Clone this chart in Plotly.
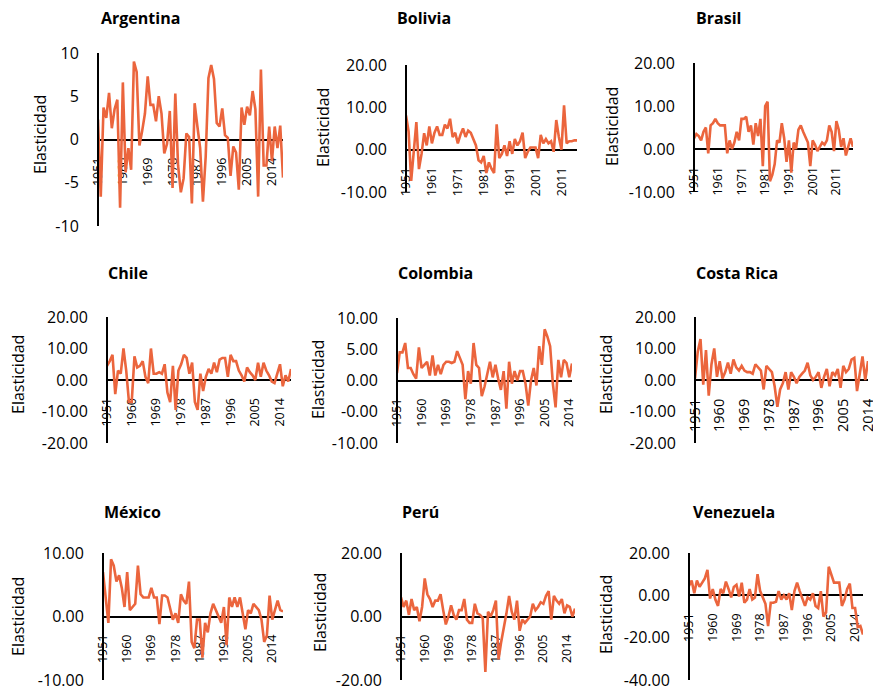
import plotly.graph_objects as go

# The page body has an 8px default margin, so the figure is sized to fit the
# remaining viewport and reference pixel positions are shifted accordingly.
OFF = 8
W, H = 881 - OFF, 692 - OFF
LINE_COLOR = "#EB653D"
FONT = "Open Sans"

# ---------------- data (elasticidad por año, desde 1951) ----------------
argentina = [2.3, -6.6, 3.7, 2.5, 5.4, 1.3, 3.5, 4.6, -7.9, 6.6, -3.8, -1.0, -3.5, 9.0, 7.8, -0.7,
             1.0, 3.0, 7.3, 4.0, 4.0, 2.1, 5.0, 3.0, -1.6, -0.5, 3.3, -5.6, 5.3, -3.0, -6.1, -4.5,
             0.7, 0.3, -7.4, 4.2, 1.5, -1.0, -7.2, -2.0, 7.1, 8.6, 7.0, 1.9, 1.5, 3.6, 0.5, 0.2,
             -4.2, -0.8, -1.5, -5.8, 3.7, 1.7, 3.8, 2.8, 5.6, 3.5, -6.6, 8.1, -3.0, -3.0, 1.5,
             -2.5, 1.5, -1.0, 1.6, -4.4]
bolivia = [8.1, 4.3, -7.4, 0.0, 6.5, -4.6, -1.0, 3.9, 1.0, 5.5, 1.5, 4.0, 5.5, 3.5, 3.5, 5.9,
           5.0, 7.3, 3.0, 4.0, 1.5, 3.5, 5.0, 3.0, 4.5, 4.0, 2.5, 1.0, -2.5, -3.0, -1.5, -5.5,
           -3.0, -4.5, -5.5, 6.0, -2.0, -1.0, 1.0, -1.5, 2.0, -1.0, 2.5, 1.0, 2.0, 4.0, -2.0,
           -0.5, 0.5, 0.5, 0.5, -2.0, 3.5, 1.5, 2.5, 1.5, 2.0, -0.5, 7.0, 3.0, 0.0, 10.5, 1.5,
           2.0, 2.0, 2.2, 2.2]
brasil = [2.5, 3.5, 3.0, 2.0, 4.0, 5.0, -1.0, 5.5, 6.0, 7.0, 6.0, 5.5, 5.5, 5.5, -1.0, 2.0,
          0.0, 1.5, 4.0, 2.0, 7.0, 7.0, 7.5, 4.0, 5.5, 1.0, 6.0, 3.0, 7.0, -4.0, 10.0, 11.0,
          -7.5, -6.0, -3.5, 2.0, 1.5, 6.0, 2.5, -3.0, 2.0, -5.5, 1.5, 0.0, 4.5, 5.5, 4.0, 2.5,
          1.5, -4.0, 2.0, 1.0, -0.5, 0.5, 1.5, 1.0, 2.0, 5.5, 4.0, -0.5, 6.5, 4.5, 0.5, 2.5,
          -1.5, 0.5, 2.5, 0.5]
chile = [4.5, 6.0, 8.0, -4.5, 3.0, 2.0, 10.0, 3.0, -7.0, -7.0, 7.5, 4.0, 4.5, 6.0, 1.0, -1.0,
         10.0, 2.0, 2.0, 2.5, 2.0, 5.0, -4.0, -7.0, 4.5, -9.5, 3.0, 5.0, 8.0, 7.0, 2.0, 5.5,
         -7.0, -9.5, 2.0, -3.5, 1.0, 3.5, 2.0, 5.5, 2.5, 6.5, 7.0, 7.0, 1.0, 8.0, 6.0, 6.0,
         3.0, 1.5, -0.5, 4.0, 2.5, 1.5, 0.0, 5.5, 1.0, 5.5, 3.0, 1.5, -0.5, -1.0, 2.0, 5.0,
         -2.0, 1.5, -0.5, 3.5]
colombia = [1.2, 4.5, 4.5, 6.0, 2.0, 2.0, 1.0, 0.3, 5.3, 2.0, 2.5, 3.0, 0.8, 4.0, 0.8, 2.5,
            1.0, 2.5, 3.0, 3.0, 2.8, 3.0, 4.7, 3.5, 2.5, -3.0, 1.5, -0.5, 6.0, 2.5, 2.0, -2.5,
            -1.0, 1.0, 3.0, 0.5, 2.5, 0.3, -1.5, 1.5, -4.5, 3.0, -0.5, 1.5, 0.0, 1.5, 1.5, -0.5,
            -4.0, 0.0, 2.0, -0.8, 5.5, 2.5, 8.2, 7.0, 5.5, -0.5, -4.3, 3.3, 0.5, 3.3, 2.8, 0.5,
            2.7]
costa_rica = [0.5, 9.0, 13.0, -1.5, 9.5, -5.0, 5.0, 10.0, 1.0, 6.0, 0.5, 2.5, 5.5, 2.0, 6.5, 4.0,
              3.0, 4.5, 3.0, 2.5, 2.5, 2.0, 5.0, 4.0, 3.0, -3.0, 4.5, 3.5, 2.5, -2.0, -8.5, -3.0,
              -1.0, 2.5, -3.0, 2.5, 1.0, -1.0, 1.0, 2.0, 3.0, 5.5, 1.5, 0.0, 1.0, 2.5, -2.5, 1.0,
              3.5, -2.0, 2.5, 1.5, 3.5, -2.5, 4.5, 2.5, 3.5, 6.5, 7.0, -3.5, 1.5, 7.5, 0.0, 6.0]
mexico = [7.0, 3.0, -1.0, 9.0, 8.0, 5.5, 6.5, 4.5, 1.5, 7.0, 1.0, 1.5, 2.0, 8.0, 3.5, 3.0,
          3.0, 3.0, 4.5, 3.0, 3.0, -1.2, 3.3, 3.3, 3.0, 1.0, -0.5, 0.5, -1.0, 3.5, 2.5, 2.0,
          5.5, -4.0, -5.0, -0.5, -0.5, -6.5, -1.0, -2.5, 0.5, 2.0, 1.0, 0.0, -1.0, 1.5, -4.5, 3.0,
          1.5, 3.0, 1.5, 3.0, 0.5, -2.0, 1.0, 0.5, 2.0, 1.5, 1.0, -0.5, -4.0, -3.0, 3.3, -0.5,
          1.0, 2.5, 1.0, 0.8]
peru = [6.0, 3.0, 5.0, 0.5, 5.5, 2.0, 3.0, -1.5, 3.0, 12.0, 7.0, 5.5, 3.0, 5.0, 5.0, 7.0,
        2.0, -2.5, 0.0, 3.5, 0.5, -1.0, 2.0, 2.0, 5.5, -1.0, -2.0, -2.0, 4.0, 1.0, 0.5, -0.5,
        -17.5, 1.5, 0.0, 2.0, 5.0, -13.5, -8.0, -4.0, 1.0, 6.5, 1.5, -1.0, 5.0, -4.5, -1.0, -2.0,
        -1.0, 0.0, 4.0, 2.0, 3.0, 4.5, 4.0, 6.5, 8.0, -1.0, 6.5, 5.0, 4.0, 5.5, 1.0, 3.5,
        3.0, 0.0, 2.5]
venezuela = [4.5, 7.0, 1.0, 7.0, 4.0, 6.0, 8.0, 12.0, -1.5, 3.0, -2.0, -5.0, 3.0, 1.0, 6.5, 3.0,
             -1.0, 4.0, 5.0, -0.5, 6.0, -3.5, -2.0, 3.0, -2.0, -1.0, 10.0, 2.0, -1.0, -4.0, -14.5,
             -3.5, -3.5, -3.0, 2.0, -2.0, 0.0, -2.0, 1.0, -7.0, 2.0, 6.0, 2.0, -2.0, -5.0, -1.0,
             -2.0, 1.0, -5.0, -6.0, 2.0, -10.0, -8.0, 13.5, 10.0, 6.0, 6.0, 6.0, -5.0, -2.0, 3.0,
             5.5, -6.0, -6.0, -15.0, -14.5, -18.5]

FIRST_YEAR = 1951
ticks_9 = [1951, 1960, 1969, 1978, 1987, 1996, 2005, 2014]
ticks_10 = [1951, 1961, 1971, 1981, 1991, 2001, 2011]

y_ticks_arg = [10, 5, 0, -5, -10]
y_text_arg = ["10", "5", "0", "-5", "-10"]
y_ticks_20 = [20, 10, 0, -10]
y_ticks_20s = [20, 10, 0, -10, -20]
y_ticks_col = [10, 5, 0, -5, -10]
y_text_col = ["10.00", "5.00", "0.00", "-0.00", "-10.00"]
y_ticks_ven = [20, 0, -20, -40]

def fmt(v):
    return [f"{t:.2f}" for t in v]

def px(x):
    return (x - OFF) / W

def py(y):
    return 1 - (y - OFF) / H

# name, values, y range, y ticks, y tick text, x ticks, plot box (l, r, top, bottom px),
# title left px / y px, y-label center (x, y) px, xtick font size
panels = [
    ("Argentina", argentina, (-10, 10), y_ticks_arg, y_text_arg, ticks_9, (98, 283, 53, 226), (99, 18), (40, 135), 12.5),
    ("Bolivia", bolivia, (-10, 20), y_ticks_20, fmt(y_ticks_20), ticks_10, (406, 577, 65, 192), (395, 18), (323, 128), 12.5),
    ("Brasil", brasil, (-10, 20), y_ticks_20, fmt(y_ticks_20), ticks_10, (694, 853, 63, 192), (694, 18), (612, 127), 12.5),
    ("Chile", chile, (-20, 20), y_ticks_20s, fmt(y_ticks_20s), ticks_9, (107, 291, 317, 443), (106, 273), (18, 375), 12.5),
    ("Colombia", colombia, (-10, 10), y_ticks_col, y_text_col, ticks_9, (397, 572, 318, 443), (396, 273), (318, 380), 12.5),
    ("Costa Rica", costa_rica, (-20, 20), y_ticks_20s, fmt(y_ticks_20s), ticks_9, (695, 868, 317, 443), (694, 273), (606, 375), 14.5),
    ("México", mexico, (-10, 10), [10, 0, -10], fmt([10, 0, -10]), ticks_9, (103, 283, 553, 680), (102, 512), (18, 617), 12.5),
    ("Perú", peru, (-20, 20), [20, 0, -20], fmt([20, 0, -20]), ticks_9, (401, 575, 553, 680), (400, 512), (320, 613), 12.5),
    ("Venezuela", venezuela, (-40, 20), y_ticks_ven, fmt(y_ticks_ven), ticks_9, (689, 863, 553, 680), (691, 512), (606, 615), 12.5),
]

fig = go.Figure()
layout = dict(
    width=W, height=H, autosize=False,
    margin=dict(l=0, r=0, t=0, b=0, pad=0, autoexpand=False),
    paper_bgcolor="white", plot_bgcolor="rgba(0,0,0,0)",
    showlegend=False,
    font=dict(family=FONT, color="black"),
)
annotations = []

for i, (name, vals, yr, ytv, ytt, xtv, box, tpos, lpos, xfs) in enumerate(panels):
    k = "" if i == 0 else str(i + 1)
    years = list(range(FIRST_YEAR, FIRST_YEAR + len(vals)))
    fig.add_trace(go.Scatter(
        x=years, y=vals, mode="lines",
        line=dict(color=LINE_COLOR, width=2.6),
        xaxis="x" + k, yaxis="y" + k, name=name,
    ))
    l, r, t, b = box
    ymin, ymax = yr
    zero_px = t + (ymax - 0) / (ymax - ymin) * (b - t)
    layout["xaxis" + k] = dict(
        domain=[px(l), px(r)], range=[years[0], years[-1]],
        anchor="free", position=py(zero_px),
        showline=True, linecolor="black", linewidth=2,
        showgrid=False, zeroline=False, ticks="",
        tickvals=xtv, ticktext=[str(v) for v in xtv], tickangle=-90,
        tickfont=dict(size=xfs, family=FONT, color="black"),
        ticklabelstandoff=12, automargin=False, ticklabeloverflow="allow",
        layer="below traces",
    )
    layout["yaxis" + k] = dict(
        domain=[py(b), py(t)], range=[ymin, ymax],
        anchor="free", position=px(l),
        showline=True, linecolor="black", linewidth=2,
        showgrid=False, zeroline=False, ticks="",
        tickvals=ytv, ticktext=ytt,
        tickfont=dict(size=16, family=FONT, color="black"),
        ticklabelstandoff=15, automargin=False, ticklabeloverflow="allow",
    )
    annotations.append(dict(
        text=f"<b>{name}</b>", x=px(tpos[0]), y=py(tpos[1]),
        xref="paper", yref="paper", xanchor="left", yanchor="middle",
        showarrow=False, font=dict(size=16, family=FONT, color="black"),
    ))
    annotations.append(dict(
        text="Elasticidad", x=px(lpos[0]), y=py(lpos[1]),
        xref="paper", yref="paper", xanchor="center", yanchor="middle",
        textangle=-90, showarrow=False,
        font=dict(size=16, family=FONT, color="black"),
    ))

layout["annotations"] = annotations
fig.update_layout(**layout)
fig.write_html("out.html")
